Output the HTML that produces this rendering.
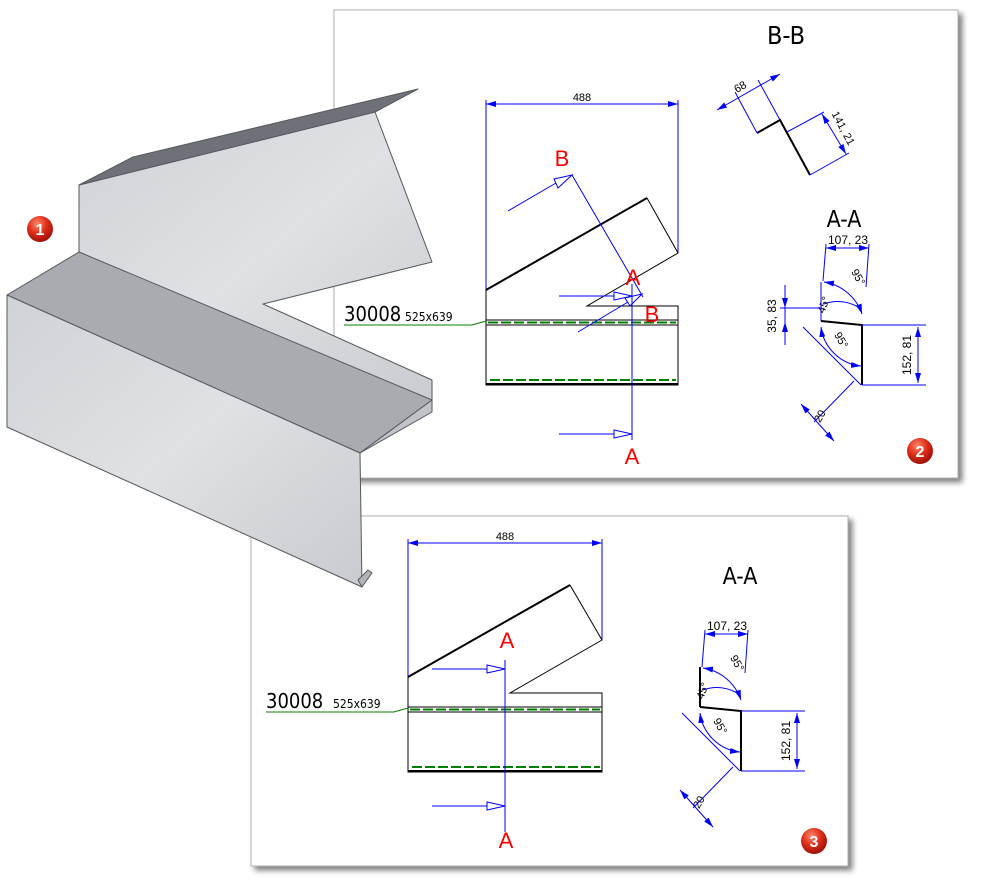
<!DOCTYPE html>
<html><head><meta charset="utf-8"><style>
html,body{margin:0;padding:0;background:#fff;}
svg{display:block;font-family:"Liberation Sans",sans-serif;}
</style></head><body>
<svg width="984" height="888" viewBox="0 0 984 888" xmlns="http://www.w3.org/2000/svg">
<defs>
<filter id="sh" x="-5%" y="-5%" width="115%" height="115%"><feGaussianBlur in="SourceAlpha" stdDeviation="3"/><feOffset dx="4" dy="4"/><feComponentTransfer><feFuncA type="linear" slope="0.5"/></feComponentTransfer><feMerge><feMergeNode/><feMergeNode in="SourceGraphic"/></feMerge></filter>
<radialGradient id="rb" cx="40%" cy="30%" r="70%"><stop offset="0" stop-color="#ff8a70"/><stop offset="0.5" stop-color="#e0301a"/><stop offset="1" stop-color="#a01008"/></radialGradient>
<linearGradient id="wall" x1="0" y1="0" x2="1" y2="1"><stop offset="0" stop-color="#cfd2d6"/><stop offset="0.5" stop-color="#dfe1e4"/><stop offset="1" stop-color="#c8cbcf"/></linearGradient>
<marker id="ar" markerWidth="10" markerHeight="6" refX="10" refY="3" orient="auto-start-reverse" markerUnits="userSpaceOnUse"><path d="M0,0 L10,3 L0,6 z" fill="#0000ff"/></marker>
</defs>

<rect x="251" y="516" width="597" height="350" fill="#fff" stroke="#b0b0b0" filter="url(#sh)"/>
<rect x="334" y="10" width="624" height="468" fill="#fff" stroke="#b0b0b0" filter="url(#sh)"/>

<g fill="none" stroke-width="1">
 <line x1="486" y1="100" x2="486" y2="290" stroke="#0000ff"/>
 <line x1="678" y1="100" x2="678" y2="253" stroke="#0000ff"/>
 <line x1="486" y1="104" x2="678" y2="104" stroke="#0000ff" marker-start="url(#ar)" marker-end="url(#ar)"/>
 <line x1="486" y1="290" x2="647" y2="198" stroke="#000" stroke-width="2"/>
 <polyline points="647,198 678,253 587,306 678,306 678,385 486,385 486,290" stroke="#000"/>
 <line x1="486" y1="320" x2="678" y2="320" stroke="#000"/>
 <line x1="486" y1="325" x2="678" y2="325" stroke="#000"/>
 <line x1="488" y1="322.5" x2="676" y2="322.5" stroke="#008000" stroke-width="2" stroke-dasharray="10,3"/>
 <line x1="486" y1="384" x2="678" y2="384" stroke="#000" stroke-width="2"/>
 <line x1="490" y1="380" x2="676" y2="380" stroke="#008000" stroke-width="2" stroke-dasharray="10,3"/>
 <line x1="632" y1="284" x2="632" y2="440" stroke="#0000ff"/>
 <line x1="559" y1="296" x2="614" y2="296" stroke="#0000ff"/>
 <polygon points="614,292 632,296 614,300" stroke="#0000ff"/>
 <line x1="559" y1="434" x2="614" y2="434" stroke="#0000ff"/>
 <polygon points="614,430 632,434 614,438" stroke="#0000ff"/>
 <line x1="572" y1="175" x2="643" y2="297" stroke="#0000ff"/>
 <line x1="508" y1="211" x2="556" y2="183" stroke="#0000ff"/>
 <polygon points="554,179 572,175 558,188" stroke="#0000ff"/>
 <line x1="578" y1="332" x2="628" y2="302" stroke="#0000ff"/>
 <polygon points="625,298 642,294 630,306" stroke="#0000ff"/>
 <polyline points="344,325 472,325 486,321" stroke="#008000"/>
 <polyline points="757,133 780,120 810,175" stroke="#000" stroke-width="2"/>
 <line x1="757" y1="133" x2="735" y2="92" stroke="#0000ff"/>
 <line x1="780" y1="120" x2="758" y2="80" stroke="#0000ff"/>
 <line x1="717" y1="110" x2="780" y2="74" stroke="#0000ff" marker-start="url(#ar)" marker-end="url(#ar)"/>
 <line x1="787" y1="132" x2="824" y2="112" stroke="#0000ff"/>
 <line x1="810" y1="175" x2="849" y2="153" stroke="#0000ff"/>
 <line x1="822" y1="114" x2="846" y2="154" stroke="#0000ff" marker-start="url(#ar)" marker-end="url(#ar)"/>
</g>
<text x="582" y="101" font-size="11" text-anchor="middle">488</text>
<text x="786" y="44" font-size="25" text-anchor="middle" font-family="DejaVu Sans Condensed, DejaVu Sans, sans-serif" font-weight="200">B-B</text>
<text x="844" y="227" font-size="23" text-anchor="middle" font-family="DejaVu Sans Condensed, DejaVu Sans, sans-serif" font-weight="200">A-A</text>
<text x="742" y="90" font-size="11" transform="rotate(-30 742 90)" text-anchor="middle">68</text>
<text x="840" y="130" font-size="11" transform="rotate(62 840 130)" text-anchor="middle">141, 21</text>
<text x="562" y="166" font-size="22" fill="#f00" text-anchor="middle">B</text>
<text x="633" y="285" font-size="22" fill="#f00" text-anchor="middle">A</text>
<text x="652" y="322" font-size="22" fill="#f00" text-anchor="middle">B</text>
<text x="632" y="464" font-size="22" fill="#f00" text-anchor="middle">A</text>
<text x="344" y="321" font-size="20" font-weight="200" font-family="DejaVu Sans Condensed, DejaVu Sans, sans-serif">30008</text>
<text x="405" y="321" font-size="12" font-family="DejaVu Sans Condensed, DejaVu Sans, sans-serif">525x639</text>

<g id="aa">
 <g fill="none" stroke-width="1">
  <polyline points="700,707 741,711 741,771" stroke="#000" stroke-width="2"/>
  <line x1="705" y1="634" x2="748" y2="634" stroke="#0000ff" marker-start="url(#ar)" marker-end="url(#ar)"/>
  <line x1="705" y1="630" x2="702" y2="667" stroke="#0000ff"/>
  <line x1="748" y1="630" x2="745" y2="673" stroke="#0000ff"/>
  <line x1="741" y1="711" x2="805" y2="711" stroke="#0000ff"/>
  <line x1="741" y1="771" x2="805" y2="771" stroke="#0000ff"/>
  <line x1="797" y1="713" x2="797" y2="769" stroke="#0000ff" marker-start="url(#ar)" marker-end="url(#ar)"/>
  <line x1="682" y1="713" x2="740" y2="771" stroke="#0000ff"/>
  <line x1="733" y1="767" x2="693" y2="808" stroke="#0000ff"/>
  <line x1="680" y1="790" x2="713" y2="827" stroke="#0000ff" marker-start="url(#ar)" marker-end="url(#ar)"/>
  <path d="M703,668 A48,48 0 0 1 741,700" stroke="#0000ff" marker-start="url(#ar)" marker-end="url(#ar)"/>
  <path d="M703,690 A40,40 0 0 1 740,695" stroke="#0000ff"/>
  <path d="M700,713 A45,45 0 0 0 740,752" stroke="#0000ff" marker-start="url(#ar)" marker-end="url(#ar)"/>
 </g>
 <text x="727" y="630" font-size="12" text-anchor="middle">107, 23</text>
 <text x="790" y="741" font-size="12" transform="rotate(-90 790 741)" text-anchor="middle">152, 81</text>
 <text x="702" y="804" font-size="11" transform="rotate(-60 702 804)" text-anchor="middle">20</text>
 <text x="734" y="665" font-size="11" transform="rotate(60 734 665)" text-anchor="middle">95°</text>
 <text x="706" y="692" font-size="11" transform="rotate(-70 706 692)" text-anchor="middle">45°</text>
 <text x="717" y="728" font-size="11" transform="rotate(60 717 728)" text-anchor="middle">95°</text>
</g>
<line x1="700" y1="667" x2="700" y2="707" stroke="#000" stroke-width="2"/>
<use href="#aa" transform="translate(121,-386)"/>
<g fill="none" stroke="#0000ff">
 <line x1="780" y1="308" x2="822" y2="308"/>
 <line x1="785" y1="285" x2="785" y2="345"/>
 <line x1="785" y1="292" x2="785" y2="308" marker-end="url(#ar)"/>
 <line x1="785" y1="338" x2="785" y2="322" marker-end="url(#ar)"/>
</g>
<text x="776" y="316" font-size="12" transform="rotate(-90 776 316)" text-anchor="middle">35, 83</text>
<line x1="821" y1="282" x2="821" y2="321" stroke="#0000ff"/>

<g fill="none" stroke-width="1">
 <line x1="408" y1="539" x2="408" y2="677" stroke="#0000ff"/>
 <line x1="602" y1="539" x2="602" y2="640" stroke="#0000ff"/>
 <line x1="408" y1="543" x2="602" y2="543" stroke="#0000ff" marker-start="url(#ar)" marker-end="url(#ar)"/>
 <line x1="408" y1="677" x2="570" y2="585" stroke="#000" stroke-width="2"/>
 <polyline points="570,585 602,640 510,693 602,693 602,772 408,772 408,677" stroke="#000"/>
 <line x1="408" y1="707" x2="602" y2="707" stroke="#000"/>
 <line x1="408" y1="712" x2="602" y2="712" stroke="#000"/>
 <line x1="410" y1="709.5" x2="600" y2="709.5" stroke="#008000" stroke-width="2" stroke-dasharray="10,3"/>
 <line x1="408" y1="771" x2="602" y2="771" stroke="#000" stroke-width="2"/>
 <line x1="412" y1="767" x2="600" y2="767" stroke="#008000" stroke-width="2" stroke-dasharray="10,3"/>
 <line x1="505" y1="660" x2="505" y2="832" stroke="#0000ff"/>
 <line x1="432" y1="669" x2="487" y2="669" stroke="#0000ff"/>
 <polygon points="487,665 505,669 487,673" stroke="#0000ff"/>
 <line x1="432" y1="806" x2="487" y2="806" stroke="#0000ff"/>
 <polygon points="487,802 505,806 487,810" stroke="#0000ff"/>
 <polyline points="266,712 394,712 408,708" stroke="#008000"/>
</g>
<text x="505" y="540" font-size="11" text-anchor="middle">488</text>
<text x="740" y="584" font-size="23" text-anchor="middle" font-family="DejaVu Sans Condensed, DejaVu Sans, sans-serif" font-weight="200">A-A</text>
<text x="507" y="648" font-size="22" fill="#f00" text-anchor="middle">A</text>
<text x="506" y="848" font-size="22" fill="#f00" text-anchor="middle">A</text>
<text x="266" y="708" font-size="20" font-weight="200" font-family="DejaVu Sans Condensed, DejaVu Sans, sans-serif">30008</text>
<text x="333" y="708" font-size="12" font-family="DejaVu Sans Condensed, DejaVu Sans, sans-serif">525x639</text>

<g stroke="#55585d" stroke-width="1" stroke-linejoin="round">
 <polygon points="79,185 375,112 432,262 263,304 432,380 432,410 79,252" fill="url(#wall)"/>
 <polygon points="79,185 133,157 418,89 375,112" fill="#6e7177"/>
 <polygon points="7,295 79,252 432,400 360,453" fill="#a8abb0"/>
 <polygon points="360,453 432,400 432,412" fill="#c0c3c7"/>
 <polygon points="7,295 360,453 362,587 7,427" fill="url(#wall)"/>
 <polygon points="362,587 358,580 368,570 372,573" fill="#b0b3b7"/>
</g>

<g font-weight="bold" font-size="16" fill="#fff" text-anchor="middle">
 <circle cx="40" cy="229" r="13" fill="url(#rb)"/><text x="40" y="235">1</text>
 <circle cx="920" cy="451" r="13" fill="url(#rb)"/><text x="920" y="457">2</text>
 <circle cx="814" cy="841" r="13" fill="url(#rb)"/><text x="814" y="847">3</text>
</g>
</svg>
</body></html>
